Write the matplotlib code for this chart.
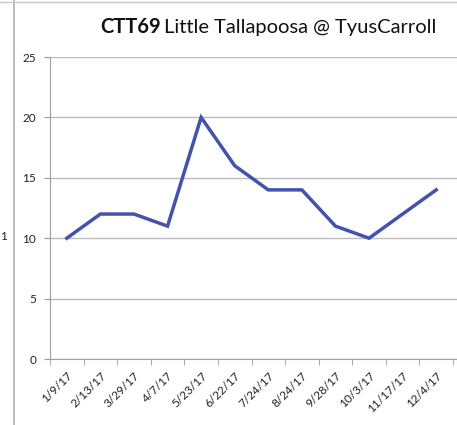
import numpy as np
import matplotlib.pyplot as plt
from matplotlib.lines import Line2D

dates = ['1/9/17', '2/13/17', '3/29/17', '4/7/17', '5/23/17', '6/22/17',
         '7/24/17', '8/24/17', '9/28/17', '10/3/17', '11/17/17', '12/4/17']
values = [10, 12, 12, 11, 20, 16, 14, 14, 11, 10, 12, 14]
yticks = [0, 5, 10, 15, 20, 25]

plt.rcParams['font.family'] = ['Lato', 'DejaVu Sans']

W, H = 457, 425
fig = plt.figure(figsize=(W / 100, H / 100), dpi=100)
ax = fig.add_axes([50 / W, 1 - 359 / H, 407 / W, (359 - 57) / H])

x = np.arange(len(dates))
ax.plot(x, values, color='#4353ad', lw=2.5, solid_joinstyle='miter')

# categories spaced like the original; the plot box runs to the picture edge
ax.set_xlim(-0.5, len(dates) - 0.5 + 4 / 33.6)
ax.set_ylim(0, 25)
ax.set_yticks(yticks)
ax.set_yticklabels([str(v) for v in yticks], fontsize=8.5, color='#222222')
ax.set_xticks(x)
ax.set_xticklabels(dates, rotation=45, ha='right', rotation_mode='anchor',
                   fontsize=8.5, color='#222222')
ax.set_xticks(np.arange(-0.5, len(dates)), minor=True)
ax.tick_params(axis='x', which='major', length=0, pad=8)
ax.tick_params(axis='x', which='minor', length=4, color='#999999')
ax.tick_params(axis='y', length=4, color='#999999', pad=6)

ax.yaxis.grid(True, color='#bcbcbc', lw=1.0)
ax.set_axisbelow(True)
for s in ['top', 'right']:
    ax.spines[s].set_visible(False)
for s in ['left', 'bottom']:
    ax.spines[s].set_color('#a0a0a0')

# title (the scan cuts it off at the right edge)
fig.text(100 / W, 1 - 33 / H, 'CTT69', fontsize=14.5, fontweight='bold',
         color='#111111', va='baseline')
fig.text(164 / W, 1 - 33 / H, 'Little Tallapoosa @ TyusCarroll',
         fontsize=14.5, color='#111111', va='baseline')

# spreadsheet border and cell text remains
fig.add_artist(Line2D([14 / W, 14 / W], [0, 1], color='#b0b0b0', lw=1.2))
fig.add_artist(Line2D([0, 1], [1 - 2 / H, 1 - 2 / H], color='#c8c8c8', lw=1.0))
fig.text(0, 1 - 240 / H, '1', fontsize=8.5, color='#222222')

fig.savefig('out.png', dpi=100)
